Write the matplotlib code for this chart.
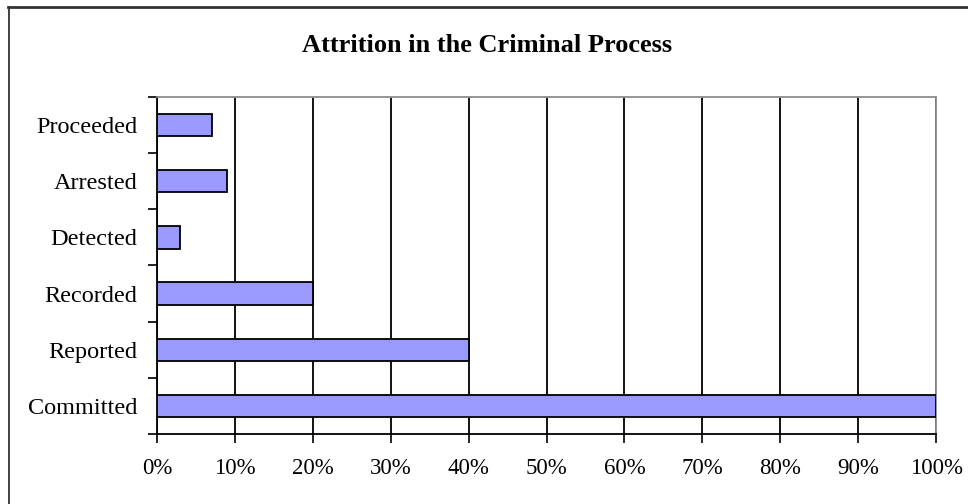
import numpy as np
import matplotlib.pyplot as plt
from matplotlib.lines import Line2D
from matplotlib.ticker import FixedLocator, NullFormatter

# ---------------------------------------------------------------------------
# Data (bottom to top)
# ---------------------------------------------------------------------------
STAGES = ["Committed", "Reported", "Recorded", "Detected", "Arrested", "Proceeded"]
PERCENT = [100, 40, 20, 3, 9, 7]
X_TICKS = list(range(0, 101, 10))
X_LABELS = [f"{t}%" for t in X_TICKS]
TITLE = "Attrition in the Criminal Process"

plt.rcParams["font.family"] = ["Liberation Serif", "DejaVu Serif"]

fig = plt.figure(figsize=(9.68, 5.04), dpi=100)
ax = fig.add_axes([0.1622, 0.1389, 0.8048, 0.6687])

y = np.arange(len(STAGES))
ax.barh(y, PERCENT, height=0.4, color="#9999FF", edgecolor="black",
        linewidth=1.3, zorder=3)

ax.set_xlim(0, 100)
ax.set_ylim(-0.5, len(STAGES) - 0.5)

# x axis: percent ticks with vertical black gridlines
ax.set_xticks(X_TICKS)
ax.set_xticklabels(X_LABELS, fontsize=16.5)
ax.xaxis.grid(True, color="black", linewidth=1.3, zorder=0)
ax.tick_params(axis="x", direction="out", length=6.5, width=1.2, pad=11)

# y axis: labels at category centres, tick marks at category boundaries
ax.yaxis.set_major_locator(FixedLocator(np.arange(-0.5, len(STAGES), 1.0)))
ax.yaxis.set_major_formatter(NullFormatter())
ax.yaxis.set_minor_locator(FixedLocator(y))
ax.set_yticklabels(STAGES, minor=True, fontsize=17.5)
ax.tick_params(axis="y", which="major", direction="out", length=6.5, width=1.2)
ax.tick_params(axis="y", which="minor", length=0, pad=14)

for side in ("top", "right"):
    ax.spines[side].set_color("#8c8c8c")
    ax.spines[side].set_linewidth(1.3)
for side in ("left", "bottom"):
    ax.spines[side].set_color("black")
    ax.spines[side].set_linewidth(1.3)

fig.text(0.503, 0.91, TITLE, ha="center", va="center",
         fontsize=19, fontweight="bold")

# outer chart-area border (only top and left edges visible in the crop)
W, H = 968, 504
fig.add_artist(Line2D([8 / W, 1], [1 - 6.5 / H, 1 - 6.5 / H],
                      transform=fig.transFigure, color="#333333", linewidth=2.0))
fig.add_artist(Line2D([9 / W, 9 / W], [0, 1 - 6.5 / H],
                      transform=fig.transFigure, color="#333333", linewidth=1.3))

fig.savefig("out.png", dpi=100)
